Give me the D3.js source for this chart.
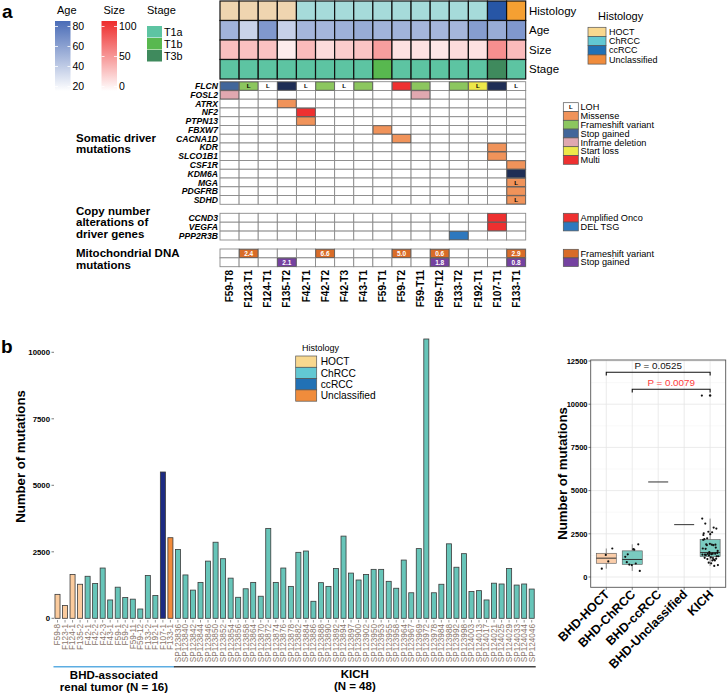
<!DOCTYPE html>
<html><head><meta charset="utf-8">
<script src="https://cdn.jsdelivr.net/npm/d3@7"></script>
<style>body{margin:0;background:#fff} svg{display:block} text{font-family:"Liberation Sans",Arial,Helvetica,sans-serif}</style>
</head><body><svg id="c" width="727" height="693"></svg>
<script>
// ---------------- DATA: panel a ----------------
const samplesA = ["F59-T8","F123-T1","F124-T1","F135-T2","F42-T1","F42-T2","F42-T3","F43-T1","F59-T1","F59-T2","F59-T11","F59-T12","F133-T2","F192-T1","F107-T1","F133-T1"];
const histologyA = ["HOCT","HOCT","HOCT","HOCT","ChRCC","ChRCC","ChRCC","ChRCC","ChRCC","ChRCC","ChRCC","ChRCC","ChRCC","ChRCC","ccRCC","Unclassified"];
const ageA = [51,38,62,39,50,50,52,54,51,51,50,50,50,60,54,62];
const sizeA = [30,30,29,9,32,17,24,28,46,14,14,12,17,14,53,32];
const stageA = ["T1a","T1a","T1a","T1a","T1a","T1a","T1a","T1a","T1b","T1a","T1a","T1a","T1a","T1a","T3b","T1a"];
const topRows = ["Histology","Age","Size","Stage"];
const ageTicks = [20,40,60,80];
const sizeTicks = [0,50,100];
const stageLevels = ["T1a","T1b","T3b"];
const histLevels = ["HOCT","ChRCC","ccRCC","Unclassified"];

const somaticGenes = ["FLCN","FOSL2","ATRX","NF2","PTPN13","FBXW7","CACNA1D","KDR","SLCO1B1","CSF1R","KDM6A","MGA","PDGFRB","SDHD"];
const cnvGenes = ["CCND3","VEGFA","PPP2R3B"];
const mitoTypes = ["Frameshift variant","Stop gained"];
const somaticCalls = [
 ["FLCN",0,"Stop gained"],["FLCN",1,"Frameshift variant"],["FLCN",3,"Truncating"],["FLCN",5,"Frameshift variant"],
 ["FLCN",7,"Frameshift variant"],["FLCN",9,"Multi"],["FLCN",10,"Frameshift variant"],["FLCN",12,"Frameshift variant"],
 ["FLCN",13,"Start loss"],["FLCN",14,"Truncating"],
 ["FOSL2",0,"Inframe deletion"],["FOSL2",10,"Inframe deletion"],
 ["ATRX",3,"Missense"],["NF2",4,"Multi"],["PTPN13",4,"Missense"],["FBXW7",8,"Missense"],["CACNA1D",9,"Missense"],
 ["KDR",14,"Missense"],["SLCO1B1",14,"Missense"],["CSF1R",15,"Missense"],["KDM6A",15,"Truncating"],
 ["MGA",15,"Missense"],["PDGFRB",15,"Missense"],["SDHD",15,"Missense"]];
const lohCalls = [["FLCN",1],["FLCN",2],["FLCN",4],["FLCN",6],["FLCN",13],["FLCN",15],["MGA",15],["SDHD",15]];
const cnvCalls = [["CCND3",14,"Amplified Onco"],["VEGFA",14,"Amplified Onco"],["PPP2R3B",12,"DEL TSG"]];
const mitoCalls = [["Frameshift variant",1,2.4],["Frameshift variant",5,6.6],["Frameshift variant",9,5.0],["Frameshift variant",11,0.6],["Frameshift variant",15,2.9],["Stop gained",3,2.1],["Stop gained",11,1.8],["Stop gained",15,0.8]];
const mutLegend = ["LOH","Missense","Frameshift variant","Stop gained","Inframe deletion","Start loss","Multi"];
const cnvLegend = ["Amplified Onco","DEL TSG"];

// ---------------- DATA: panel b ----------------
const barSamples = ["F59-8","F123-1","F124-1","F135-2","F42-1","F42-2","F42-3","F43-1","F59-1","F59-2","F59-11","F59-12","F133-2","F192-1","F107-1","F133-1",
 "SP123836","SP123840","SP123842","SP123844","SP123846","SP123850","SP123852","SP123854","SP123856","SP123858","SP123864","SP123870",
 "SP123872","SP123874","SP123876","SP123878","SP123882","SP123884","SP123886","SP123888","SP123890","SP123892","SP123894","SP123897",
 "SP123900","SP123902","SP123950","SP123953","SP123955","SP123958","SP123964","SP123967","SP123969","SP123972","SP123978","SP123984",
 "SP123988","SP123992","SP123998","SP124003","SP124013","SP124017","SP124021","SP124025","SP124029","SP124033","SP124044","SP124046"];
const barValues = [900,480,1650,1280,1580,1310,1890,690,1170,780,720,350,1610,860,5500,3030,
 2590,1630,1060,1350,2150,2860,2240,1510,790,1110,1350,830,3380,1350,1890,1200,2480,2530,640,1340,1200,1870,3090,1700,
 1440,1650,1840,1840,1390,1130,2190,960,2620,10500,960,1280,2800,1920,2430,1010,1040,690,1320,1290,1870,1250,1290,1100];
const barHistology = histologyA.concat(d3.range(48).map(() => "ChRCC"));
const barCohort = d3.range(64).map(i => i < 16 ? "BHD" : "KICH");
const barTicks = [0,2500,5000,7500,10000];
const boxCats = ["BHD-HOCT","BHD-ChRCC","BHD-ccRCC","BHD-Unclassified","KICH"];
const boxTicks = [0,2500,5000,7500,10000,12500];
const pTests = [["BHD-HOCT","KICH","P = 0.0525"],["BHD-ChRCC","KICH","P = 0.0079"]];

// ---------------- colours ----------------
const heatHist = {HOCT:"#EFD5B0",ChRCC:"#A6DBDA",ccRCC:"#2756A6",Unclassified:"#F5A032"};
const legHist = {HOCT:"#F8D88F",ChRCC:"#62C8D3",ccRCC:"#2171B5",Unclassified:"#F08C3C"};
const stageCol = {T1a:"#5DC4A2",T1b:"#58B84F",T3b:"#3F8A5D"};
const ageCol = t => d3.interpolateRgb("#FFFFFF","#4A6CB7")((t-20)/60);
const sizeCol = t => d3.interpolateRgb("#FFFFFF","#EE2C2C")(t/100);
const mutCol = {"LOH":"#FFFFFF","Missense":"#F0935A","Frameshift variant":"#8CC65F","Stop gained":"#42669A","Inframe deletion":"#E0A8B0","Start loss":"#EDE84A","Multi":"#EE3030","Truncating":"#1F2E55"};
const cnvCol = {"Amplified Onco":"#EE3030","DEL TSG":"#2E78BE"};
const mitoCol = {"Frameshift variant":"#D96C28","Stop gained":"#7542A0"};
const barCol = {HOCT:"#FBCB9D",ChRCC:"#67C5B9",ccRCC:"#1D2B82",Unclassified:"#F28B3A"};
const boxFill = {"BHD-HOCT":"#F9C8A0","BHD-ChRCC":"#6BC5B9","BHD-ccRCC":"#6BC5B9","BHD-Unclassified":"#F28B3A","KICH":"#6BC5B9"};

const svg = d3.select("#c");
const defs = svg.append("defs");
function grad(id, c){ const g = defs.append("linearGradient").attr("id",id).attr("x1",0).attr("y1",0).attr("x2",0).attr("y2",1);
  g.append("stop").attr("offset",0).attr("stop-color",c); g.append("stop").attr("offset",1).attr("stop-color","#FFFFFF"); }
grad("gAge","#4A6CB7"); grad("gSize","#EE2C2C");

// ================= PANEL a =================
svg.append("text").attr("x",2).attr("y",18).attr("font-size",19).attr("font-weight","bold").text("a");

const yLegAge = d3.scaleLinear().domain([20,80]).range([86.5,26.5]);
const yLegSize = d3.scaleLinear().domain([0,100]).range([86.5,26.5]);
function contLegend(x, title, gid, sc, ticks){
  svg.append("text").attr("x",x+2).attr("y",14).attr("font-size",11).text(title);
  svg.append("rect").attr("x",x).attr("y",21).attr("width",15.5).attr("height",70).attr("fill",`url(#${gid})`);
  ticks.forEach(t => {
    const y = sc(t);
    svg.append("line").attr("x1",x).attr("x2",x+3).attr("y1",y).attr("y2",y).attr("stroke","#fff").attr("stroke-width",0.8);
    svg.append("line").attr("x1",x+12.5).attr("x2",x+15.5).attr("y1",y).attr("y2",y).attr("stroke","#fff").attr("stroke-width",0.8);
    svg.append("text").attr("x",x+17.5).attr("y",y).attr("dy","0.36em").attr("font-size",10.5).text(t);
  });
}
contLegend(55,"Age","gAge",yLegAge,ageTicks);
contLegend(101.5,"Size","gSize",yLegSize,sizeTicks);
svg.append("text").attr("x",147).attr("y",14).attr("font-size",11).text("Stage");
stageLevels.forEach((s,i) => {
  svg.append("rect").attr("x",147).attr("y",26+i*12).attr("width",15).attr("height",11.5).attr("fill",stageCol[s]);
  svg.append("text").attr("x",164).attr("y",26+i*12+6).attr("dy","0.36em").attr("font-size",10.8).text(s);
});

const colX = d3.scaleBand().domain(d3.range(16)).range([220,525.7]);
const cw = colX.bandwidth();
const yTop = d3.scaleBand().domain(topRows).range([1,79]);
const topG = svg.append("g");
const topFill = (r,i) => r==="Histology" ? heatHist[histologyA[i]] : r==="Age" ? ageCol(ageA[i]) : r==="Size" ? sizeCol(sizeA[i]) : stageCol[stageA[i]];
topRows.forEach(r => {
  d3.range(16).forEach(i => {
    topG.append("rect").attr("x",colX(i)).attr("y",yTop(r)).attr("width",cw).attr("height",yTop.bandwidth())
      .attr("fill",topFill(r,i)).attr("stroke","#111").attr("stroke-width",1.2);
  });
  svg.append("text").attr("x",529).attr("y",yTop(r)+yTop.bandwidth()/2).attr("dy","0.36em").attr("font-size",11.5).text(r);
});

svg.append("text").attr("x",598).attr("y",20).attr("font-size",11).text("Histology");
histLevels.forEach((h,i) => {
  svg.append("rect").attr("x",588).attr("y",27.3+i*9.2).attr("width",18).attr("height",9.2).attr("fill",legHist[h]).attr("stroke","#555").attr("stroke-width",0.7);
  svg.append("text").attr("x",609).attr("y",27.3+i*9.2+4.6).attr("dy","0.35em").attr("font-size",9).text(h);
});

const ySom = d3.scaleBand().domain(somaticGenes).range([81.7,204.3]);
const yCnv = d3.scaleBand().domain(cnvGenes).range([213.3,240]);
const yMito = d3.scaleBand().domain(mitoTypes).range([249,266.7]);
function grid(sc, labels){
  sc.domain().forEach(g => {
    d3.range(16).forEach(i => svg.append("rect").attr("x",colX(i)).attr("y",sc(g)).attr("width",cw).attr("height",sc.bandwidth())
      .attr("fill","#fff").attr("stroke","#8a8a8a").attr("stroke-width",0.9));
    if(labels) svg.append("text").attr("x",218).attr("y",sc(g)+sc.bandwidth()/2).attr("dy","0.36em").attr("text-anchor","end")
      .attr("font-size",8.6).attr("font-weight","bold").attr("font-style","italic").text(g);
  });
}
grid(ySom,true); grid(yCnv,true); grid(yMito,false);
function cell(sc,g,i,fill){
  svg.append("rect").attr("x",colX(i)+0.3).attr("y",sc(g)+0.3).attr("width",cw-0.6).attr("height",sc.bandwidth()-0.6)
    .attr("fill",fill).attr("stroke","#555").attr("stroke-width",0.7);
}
somaticCalls.forEach(([g,i,t]) => cell(ySom,g,i,mutCol[t]));
lohCalls.forEach(([g,i]) => svg.append("text").attr("x",colX(i)+cw/2).attr("y",ySom(g)+ySom.bandwidth()/2).attr("dy","0.36em")
  .attr("text-anchor","middle").attr("font-size",6.2).attr("font-weight","bold").text("L"));
cnvCalls.forEach(([g,i,t]) => cell(yCnv,g,i,cnvCol[t]));
mitoCalls.forEach(([t,i,v]) => {
  cell(yMito,t,i,mitoCol[t]);
  svg.append("text").attr("x",colX(i)+cw/2).attr("y",yMito(t)+yMito.bandwidth()/2).attr("dy","0.36em").attr("text-anchor","middle")
    .attr("font-size",6.5).attr("font-weight","bold").attr("fill","#fff").text(v.toFixed(1));
});

const sec = [["Somatic driver",141.5],["mutations",152.8],["Copy number",215],["alterations of",226.3],["driver genes",237.6],["Mitochondrial DNA",257],["mutations",268.6]];
sec.forEach(([t,y]) => svg.append("text").attr("x",76).attr("y",y).attr("font-size",11.5).attr("font-weight","bold").text(t));

samplesA.forEach((s,i) => svg.append("text").attr("transform",`translate(${colX(i)+cw/2+3.6},270) rotate(-90)`)
  .attr("text-anchor","end").attr("font-size",10).attr("font-weight","bold").text(s));

function sqLegend(items, colors, y0, h, withL){
  items.forEach((t,k) => {
    const y = y0 + k*h;
    svg.append("rect").attr("x",563.3).attr("y",y).attr("width",15).attr("height",h).attr("fill",colors[t]).attr("stroke","#555").attr("stroke-width",0.7);
    if(withL && t==="LOH") svg.append("text").attr("x",570.8).attr("y",y+h/2).attr("dy","0.36em").attr("text-anchor","middle").attr("font-size",6).attr("font-weight","bold").text("L");
    svg.append("text").attr("x",580.5).attr("y",y+h/2).attr("dy","0.35em").attr("font-size",9.2).text(t);
  });
}
sqLegend(mutLegend, mutCol, 102.7, 8.8, true);
sqLegend(cnvLegend, cnvCol, 213.3, 8.8, false);
sqLegend(mitoTypes, mitoCol, 249.3, 8.6, false);

// ================= PANEL b : bar chart =================
svg.append("text").attr("x",1).attr("y",353).attr("font-size",19).attr("font-weight","bold").text("b");
const xB = d3.scaleBand().domain(barSamples).range([52.5,536.7]).padding(0.33);
const yB = d3.scaleLinear().domain([0,10000]).range([618.3,352.3]);
svg.append("g").selectAll("rect").data(barSamples).join("rect")
  .attr("x",d => xB(d)).attr("width",xB.bandwidth())
  .attr("y",(d,i) => yB(barValues[i])).attr("height",(d,i) => yB(0)-yB(barValues[i]))
  .attr("fill",(d,i) => barCol[barHistology[i]]).attr("stroke","#3a3a3a").attr("stroke-width",0.8);
barTicks.forEach(t => {
  svg.append("line").attr("x1",51.5).attr("x2",54).attr("y1",yB(t)).attr("y2",yB(t)).attr("stroke","#444").attr("stroke-width",0.7);
  svg.append("text").attr("x",50).attr("y",yB(t)).attr("dy","0.36em").attr("text-anchor","end").attr("font-size",7.8).attr("font-weight","bold").text(t);
});
barSamples.forEach(s => {
  const cx = xB(s)+xB.bandwidth()/2;
  svg.append("line").attr("x1",cx).attr("x2",cx).attr("y1",620).attr("y2",622.5).attr("stroke","#555").attr("stroke-width",0.6);
  svg.append("text").attr("transform",`translate(${cx+2.9},624) rotate(-90)`).attr("text-anchor","end")
    .attr("font-size",8.2).attr("fill","#8a776c").text(s);
});
svg.append("text").attr("transform","translate(25,456.5) rotate(-90)").attr("text-anchor","middle").attr("font-size",13.2).attr("font-weight","bold").text("Number of mutations");
const bhdIdx = barSamples.filter((s,i) => barCohort[i]==="BHD"), kichIdx = barSamples.filter((s,i) => barCohort[i]==="KICH");
const gx0 = xB(bhdIdx[0])-1.5, gx1 = xB(bhdIdx[bhdIdx.length-1])+xB.bandwidth()+1.5;
const kx0 = xB(kichIdx[0])-1.5, kx1 = xB(kichIdx[kichIdx.length-1])+xB.bandwidth()+1.5;
svg.append("line").attr("x1",gx0).attr("x2",gx1).attr("y1",666.7).attr("y2",666.7).attr("stroke","#5DADE2").attr("stroke-width",1.6);
svg.append("line").attr("x1",kx0).attr("x2",kx1).attr("y1",666.7).attr("y2",666.7).attr("stroke","#444").attr("stroke-width",1.6);
[["BHD-associated",679],["renal tumor (N = 16)",691]].forEach(([t,y]) => svg.append("text").attr("x",(gx0+gx1)/2).attr("y",y).attr("text-anchor","middle").attr("font-size",11.5).attr("font-weight","bold").text(t));
[["KICH",677.5],["(N = 48)",689.5]].forEach(([t,y]) => svg.append("text").attr("x",(kx0+kx1)/2).attr("y",y).attr("text-anchor","middle").attr("font-size",11.5).attr("font-weight","bold").text(t));
svg.append("text").attr("x",302).attr("y",351).attr("font-size",9).text("Histology");
histLevels.forEach((h,i) => {
  svg.append("rect").attr("x",295.7).attr("y",356+i*11.3).attr("width",21).attr("height",11.3).attr("fill",legHist[h]).attr("stroke","#555").attr("stroke-width",0.7);
  svg.append("text").attr("x",320.7).attr("y",356+i*11.3+5.65).attr("dy","0.36em").attr("font-size",10.2).text(h);
});

// ================= PANEL b : box plot =================
const groupOf = i => barCohort[i]==="KICH" ? "KICH" : "BHD-"+barHistology[i];
const boxData = boxCats.map(c => barValues.filter((v,i) => groupOf(i)===c));
const px0 = 590.7, px1 = 725.7, py0 = 360, py1 = 587.3;
const yC = d3.scaleLinear().domain([0,12500]).range([577,361]);
const xC = d3.scalePoint().domain(boxCats).range([px0,px1]).padding(0.6);
svg.append("rect").attr("x",px0).attr("y",py0).attr("width",px1-px0).attr("height",py1-py0).attr("fill","#fff");
boxTicks.forEach(t => svg.append("line").attr("x1",px0).attr("x2",px1).attr("y1",yC(t)).attr("y2",yC(t)).attr("stroke","#E6E6E6").attr("stroke-width",0.8));
boxTicks.slice(0,-1).forEach(t => svg.append("line").attr("x1",px0).attr("x2",px1).attr("y1",yC(t+1250)).attr("y2",yC(t+1250)).attr("stroke","#F3F3F3").attr("stroke-width",0.5));
boxCats.forEach(c => svg.append("line").attr("x1",xC(c)).attr("x2",xC(c)).attr("y1",py0).attr("y2",py1).attr("stroke","#E6E6E6").attr("stroke-width",0.8));
boxCats.forEach((c,k) => {
  const v = boxData[k].slice().sort(d3.ascending);
  const q1 = d3.quantile(v,0.25), q2 = d3.quantile(v,0.5), q3 = d3.quantile(v,0.75), iqr = q3-q1;
  const inside = v.filter(d => d>=q1-1.5*iqr && d<=q3+1.5*iqr);
  const lo = d3.min(inside), hi = d3.max(inside), cx = xC(c), w = 20;
  svg.append("line").attr("x1",cx).attr("x2",cx).attr("y1",yC(hi)).attr("y2",yC(q3)).attr("stroke","#444").attr("stroke-width",0.6);
  svg.append("line").attr("x1",cx).attr("x2",cx).attr("y1",yC(q1)).attr("y2",yC(lo)).attr("stroke","#444").attr("stroke-width",0.6);
  svg.append("rect").attr("x",cx-w/2).attr("y",yC(q3)).attr("width",w).attr("height",Math.max(0,yC(q1)-yC(q3)))
    .attr("fill",boxFill[c]).attr("fill-opacity",0.9).attr("stroke","#555").attr("stroke-width",0.6);
  svg.append("line").attr("x1",cx-w/2).attr("x2",cx+w/2).attr("y1",yC(q2)).attr("y2",yC(q2)).attr("stroke","#333").attr("stroke-width",1);
  v.filter(d => d<lo || d>hi).forEach(d => svg.append("circle").attr("cx",cx).attr("cy",yC(d)).attr("r",1.2).attr("fill","#111"));
  if(v.length>1) boxData[k].forEach((d,j) => {
    const off = (((j+1)*0.6180339) % 1 - 0.5) * 17;
    svg.append("circle").attr("cx",cx+off).attr("cy",yC(d)).attr("r",1.1).attr("fill","#111");
  });
});
svg.append("rect").attr("x",px0).attr("y",py0).attr("width",px1-px0).attr("height",py1-py0).attr("fill","none").attr("stroke","#555").attr("stroke-width",0.9);
boxTicks.forEach(t => {
  svg.append("line").attr("x1",588.5).attr("x2",px0).attr("y1",yC(t)).attr("y2",yC(t)).attr("stroke","#444").attr("stroke-width",0.7);
  svg.append("text").attr("x",587.5).attr("y",yC(t)).attr("dy","0.36em").attr("text-anchor","end").attr("font-size",7.5).attr("font-weight","bold").text(t);
});
boxCats.forEach(c => {
  svg.append("line").attr("x1",xC(c)).attr("x2",xC(c)).attr("y1",py1).attr("y2",py1+2.5).attr("stroke","#444").attr("stroke-width",0.7);
  svg.append("text").attr("transform",`translate(${xC(c)+4},595) rotate(-45)`).attr("text-anchor","end").attr("font-size",12.5).attr("font-weight","bold").text(c);
});
svg.append("text").attr("transform","translate(567,473.5) rotate(-90)").attr("text-anchor","middle").attr("font-size",13.2).attr("font-weight","bold").text("Number of mutations");
[[372.3,"#111"],[389.3,"#FF3B3B"]].forEach(([y,tc],k) => {
  const [a,b,lab] = pTests[k]; const xa = xC(a), xb = xC(b);
  svg.append("path").attr("d",`M${xa},${y+3.2}V${y}H${xb}V${y+3.2}`).attr("fill","none").attr("stroke","#111").attr("stroke-width",1.1);
  svg.append("text").attr("x",(xa+xb)/2).attr("y",y-3.6).attr("text-anchor","middle").attr("font-size",9.8).attr("fill",tc).text(lab);
});
</script></body></html>
